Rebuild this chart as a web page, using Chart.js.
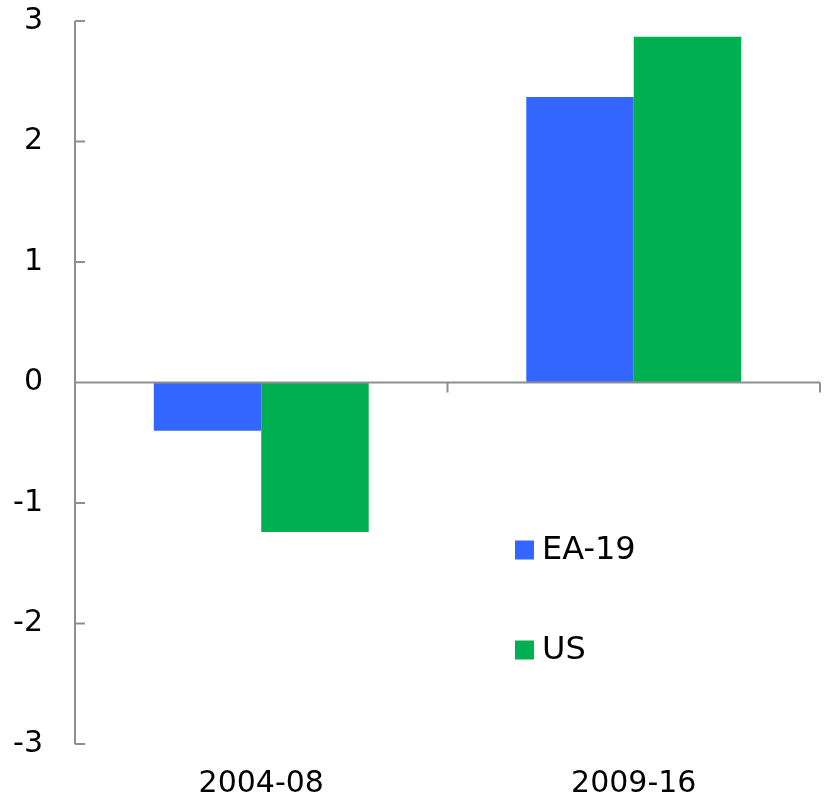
<!DOCTYPE html>
<html>
<head>
<meta charset="utf-8">
<script src="https://cdn.jsdelivr.net/npm/chart.js@4/dist/chart.umd.min.js"></script>
<style>
  html, body { margin: 0; padding: 0; background: #fff; }
  #wrap { width: 825px; height: 798px; }
</style>
</head>
<body>
<div id="wrap"><canvas id="myChart" width="825" height="798"></canvas></div>
<script>
const periods = ['2004-08', '2009-16'];
const ea19 = [-0.40, 2.37];
const us = [-1.24, 2.87];
const yTicks = [-3, -2, -1, 0, 1, 2, 3];

const axisColor = '#8f8f8f';
const font = 'DejaVu Sans';

// axis lines with inward ticks, x axis sits at zero
const axesPlugin = {
    id: 'axes',
    afterDatasetsDraw(chart) {
        const ctx = chart.ctx;
        const x = chart.scales.x, y = chart.scales.y;
        const left = chart.chartArea.left, right = chart.chartArea.right;
        ctx.save();
        ctx.strokeStyle = axisColor;
        ctx.lineWidth = 2;
        ctx.beginPath();
        ctx.moveTo(left, y.getPixelForValue(3));
        ctx.lineTo(left, y.getPixelForValue(-3));
        yTicks.forEach(v => {
            const py = y.getPixelForValue(v);
            ctx.moveTo(left, py);
            ctx.lineTo(left + 10, py);
        });
        const y0 = y.getPixelForValue(0);
        ctx.moveTo(left, y0);
        ctx.lineTo(right, y0);
        for (let i = 0; i < periods.length; i++) {
            const px = x.getPixelForValue(i) + (x.getPixelForValue(1) - x.getPixelForValue(0)) / 2;
            ctx.moveTo(px, y0);
            ctx.lineTo(px, y0 + 10);
        }
        ctx.stroke();
        ctx.restore();
    }
};

const legendPlugin = {
    id: 'innerLegend',
    afterDraw(chart) {
        const ctx = chart.ctx;
        ctx.save();
        ctx.font = '32px "' + font + '"';
        ctx.textBaseline = 'middle';
        chart.data.datasets.forEach((ds, i) => {
            const cy = 550 + i * 100;
            ctx.fillStyle = ds.backgroundColor;
            ctx.fillRect(515, cy - 9.5, 19, 19);
            ctx.fillStyle = '#000';
            ctx.fillText(ds.label, 542, cy + 1);
        });
        ctx.restore();
    }
};

new Chart(document.getElementById('myChart'), {
    type: 'bar',
    data: {
        labels: periods,
        datasets: [
            { label: 'EA-19', data: ea19, backgroundColor: '#3366FF' },
            { label: 'US', data: us, backgroundColor: '#00B050' }
        ]
    },
    options: {
        responsive: false,
        animation: false,
        layout: { padding: { top: 21, right: 5, left: 0, bottom: 0 } },
        categoryPercentage: 0.577,
        barPercentage: 1,
        plugins: {
            legend: { display: false },
            tooltip: { enabled: false }
        },
        scales: {
            x: {
                grid: { display: false },
                border: { display: false },
                ticks: { color: '#000', font: { family: font, size: 30 }, padding: 14 },
                afterFit: s => { s.height = 54; s.paddingLeft = 0; s.paddingRight = 0; }
            },
            y: {
                min: -3,
                max: 3,
                grid: { display: false },
                border: { display: false },
                ticks: { stepSize: 1, color: '#000', font: { family: font, size: 30 }, padding: 24 },
                afterFit: s => { s.width = 75; s.paddingTop = 0; s.paddingBottom = 0; }
            }
        }
    },
    plugins: [axesPlugin, legendPlugin]
});
</script>
</body>
</html>
